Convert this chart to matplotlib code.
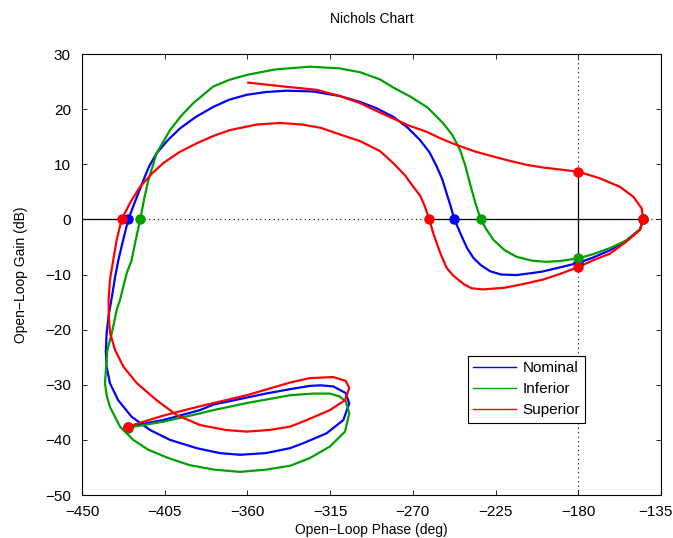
import matplotlib
matplotlib.use("Agg")
import matplotlib.pyplot as plt
import matplotlib.transforms as mtransforms
from matplotlib.lines import Line2D

plt.rcParams['font.family'] = ['Liberation Sans', 'DejaVu Sans']
plt.rcParams['font.size'] = 10

# Nominal loop (phase in deg, gain in dB)
nominal_phase = [-144.6, -146.4, -153.7, -162.7, -171.8, -180, -189.9, -200, -213.5, -222,
                 -228, -233, -237, -240.5, -243.5, -247.4, -249.5, -251.6, -254, -257,
                 -261, -266.1, -273, -280.6, -290, -298.7, -310, -324.2, -338.6, -350,
                 -360.4, -370, -378.6, -388, -396.7, -403.5, -409.4, -413.5, -416.6, -420.8,
                 -424.8, -427.8, -430.2, -432, -433.5, -435.5, -436.6, -437, -436.6, -434.8,
                 -430.3, -423, -413, -402.1, -387.6, -375, -364, -350, -336.8, -329.6,
                 -316.9, -307.8, -304.6, -306.5, -313.3, -320, -326, -336.8, -350, -360,
                 -378.6, -385.8, -405.8, -425.1]
nominal_gain = [0, -1.8, -3.8, -5.6, -6.9, -7.9, -8.7, -9.5, -10.1, -10.0,
                -9.4, -8.3, -7.0, -5.2, -3.0, 0, 2.5, 4.7, 7.3, 9.6,
                12.2, 14.4, 16.7, 18.6, 20.2, 21.3, 22.4, 23.2, 23.35, 23.1,
                22.6, 21.7, 20.4, 18.6, 16.5, 14.3, 12.0, 9.6, 7.1, 3.5,
                0, -4.0, -7.4, -10.5, -13.6, -17.5, -20.7, -24.0, -26.7, -29.7,
                -32.8, -35.8, -38.2, -40.0, -41.5, -42.4, -42.7, -42.4, -41.5, -40.6,
                -38.8, -36.4, -33.4, -31.5, -30.3, -30.1, -30.2, -30.8, -31.6, -32.3,
                -33.6, -34.6, -36.4, -37.6]

# Inferior loop
inferior_phase = [-144.6, -146.4, -153.7, -162.7, -171.8, -180, -189.9, -197.2, -205, -213.5,
                  -220, -226.2, -230, -233.1, -236, -238.9, -241.5, -244.3, -248.5, -253.4,
                  -262, -271.5, -280, -287.9, -298.7, -310, -326, -345, -360.4, -370,
                  -378.6, -389.4, -396, -402.1, -409.4, -413.9, -416, -418.3, -420.8, -423,
                  -425.7, -429.3, -431.1, -433.8, -436.2, -436.8, -437.5, -436.5, -434.8, -429.3,
                  -422.1, -413.9, -403, -391.2, -378, -364, -350, -336.8, -326, -315.1,
                  -306.9, -304.6, -306.5, -310, -315.1, -324.2, -336.8, -360, -378.6, -385.8,
                  -405.8, -425.1]
inferior_gain = [0, -1.8, -3.8, -5.2, -6.3, -7.07, -7.55, -7.7, -7.5, -6.8,
                 -5.6, -3.7, -1.8, 0, 3.0, 6.5, 9.8, 12.6, 15.3, 17.4,
                 20.3, 22.3, 23.8, 25.4, 26.7, 27.4, 27.7, 27.2, 26.2, 25.3,
                 24.1, 21.1, 18.8, 16.2, 12.0, 7.1, 4.0, 0, -3.8, -7.4,
                 -9.8, -14.6, -16.4, -20.7, -23.7, -26.5, -29.7, -32.0, -34.0, -37.6,
                 -40.0, -41.8, -43.3, -44.6, -45.4, -45.8, -45.4, -44.7, -43.3, -41.2,
                 -38.5, -35.2, -33.0, -32.1, -31.6, -31.6, -31.9, -33.3, -34.6, -35.2,
                 -36.7, -37.8]

# Superior loop
superior_phase = [-359.5, -340, -322.3, -310, -298.7, -290, -280.6, -272, -262.5, -255,
                  -246.2, -236, -226.2, -217, -208.1, -199, -189.9, -180, -168.2, -157.3,
                  -150, -145.5, -144.6, -146.4, -153.7, -162.7, -171.8, -180, -189.9, -199,
                  -208.1, -220, -231.7, -238, -242, -244.3, -248, -251.6, -253.4, -255.2,
                  -257, -258.9, -261, -263.4, -266, -269.7, -274, -280.6, -287.9, -298.7,
                  -306, -320, -330, -342.3, -355, -369.5, -378, -387.6, -397, -405.8,
                  -412, -418.4, -423.5, -428.4, -431, -433, -434.8, -435.5, -435.4, -434.6,
                  -432, -427.5, -420.2, -409.4, -398.5, -385.8, -372, -360.4, -348, -336.8,
                  -327.7, -315.1, -306.9, -304.6, -306.5, -313.3, -326, -336.8, -360.4, -385.8,
                  -405.8, -425.1]
superior_gain = [24.8, 24.1, 23.5, 22.4, 21.1, 19.7, 18.3, 17.0, 15.9, 14.7,
                 13.5, 12.3, 11.4, 10.6, 9.9, 9.4, 9.05, 8.65, 7.45, 5.9,
                 4.1, 2.0, 0, -1.9, -4.0, -6.2, -7.4, -8.65, -9.9, -10.9,
                 -11.6, -12.4, -12.7, -12.5, -11.8, -11.2, -10.2, -8.8, -7.4, -6.0,
                 -4.3, -2.5, 0, 2.3, 4.3, 5.9, 7.9, 10.2, 12.4, 14.2,
                 15.0, 16.6, 17.2, 17.5, 17.2, 16.2, 15.2, 13.8, 12.2, 10.2,
                 8.3, 5.9, 3.2, 0, -3.5, -7.4, -11.0, -14.6, -18.0, -20.7,
                 -23.7, -26.7, -29.7, -32.8, -35.5, -37.3, -38.2, -38.5, -38.2, -37.6,
                 -36.4, -34.6, -32.8, -30.6, -29.3, -28.6, -28.8, -29.6, -31.9, -33.9,
                 -35.6, -37.6]

# marked points: 0 dB crossings, -180 deg crossings, end points
nominal_marks_phase = [-424.8, -247.4, -180, -144.6, -425.1]
nominal_marks_gain = [0, 0, -7.9, 0, -37.6]
inferior_marks_phase = [-418.3, -233.1, -180, -144.6, -425.1]
inferior_marks_gain = [0, 0, -7.07, 0, -37.8]
superior_marks_phase = [-428.4, -261, -180, -180, -144.6, -425.1]
superior_marks_gain = [0, 0, 8.65, -8.65, 0, -37.6]

x_ticks = [-450, -405, -360, -315, -270, -225, -180, -135]
y_ticks = [-50, -40, -30, -20, -10, 0, 10, 20, 30]

blue = '#0000ff'
green = '#00a000'
red = '#ff0000'

fig = plt.figure(figsize=(6.73, 5.38), dpi=100)
ax = fig.add_axes([0.1218, 0.0799, 0.8603, 0.8197])

dot = (0, (1, 3))
ax.axhline(0, color='k', lw=0.8, ls=dot)
ax.axvline(-180, color='k', lw=0.8, ls=dot)
ax.plot([-450, -428.4], [0, 0], color='k', lw=0.9)
ax.plot([-261, -144.6], [0, 0], color='k', lw=0.9)
ax.plot([-180, -180], [8.65, -8.65], color='k', lw=0.9)

ax.plot(nominal_phase, nominal_gain, color=blue, lw=1.6)
ax.plot(inferior_phase, inferior_gain, color=green, lw=1.6)
ax.plot(superior_phase, superior_gain, color=red, lw=1.6)

ax.plot(nominal_marks_phase, nominal_marks_gain, 'o', color=blue, ms=6.5, ls='none')
ax.plot(inferior_marks_phase, inferior_marks_gain, 'o', color=green, ms=6.5, ls='none')
ax.plot(superior_marks_phase, superior_marks_gain, 'o', color=red, ms=6.5, ls='none')

ax.set_xlim(-450, -135)
ax.set_ylim(-50, 30)
ax.set_xticks(x_ticks)
ax.set_yticks(y_ticks)
ax.tick_params(direction='in', top=True, right=True, length=3.6, width=0.6, labelsize=11)
ax.tick_params(axis='x', pad=7)
ax.tick_params(axis='y', pad=8)
for s in ax.spines.values():
    s.set_linewidth(0.8)

# last x tick label is pushed left to stay inside the figure
fig.canvas.draw()
last = ax.get_xticklabels()[-1]
last.set_horizontalalignment('right')
last.set_transform(last.get_transform() +
                   mtransforms.ScaledTranslation(12 / 100, 0, fig.dpi_scale_trans))

ax.set_title('Nichols Chart', fontsize=10, pad=22)
ax.set_xlabel('Open\u2212Loop Phase (deg)', labelpad=3)
ax.set_ylabel('Open\u2212Loop Gain (dB)', labelpad=12)

handles = [Line2D([], [], color=blue, lw=1),
           Line2D([], [], color=green, lw=1),
           Line2D([], [], color=red, lw=1)]
leg = ax.legend(handles, ['Nominal', 'Inferior', 'Superior'], loc='upper left',
                bbox_to_anchor=(0.667, 0.315), fancybox=False, framealpha=1,
                edgecolor='k', fontsize=11, handlelength=2.8, borderpad=0.35,
                labelspacing=0.45, handletextpad=0.4, borderaxespad=0)
leg.get_frame().set_linewidth(0.8)

fig.savefig('out.png', dpi=100)
